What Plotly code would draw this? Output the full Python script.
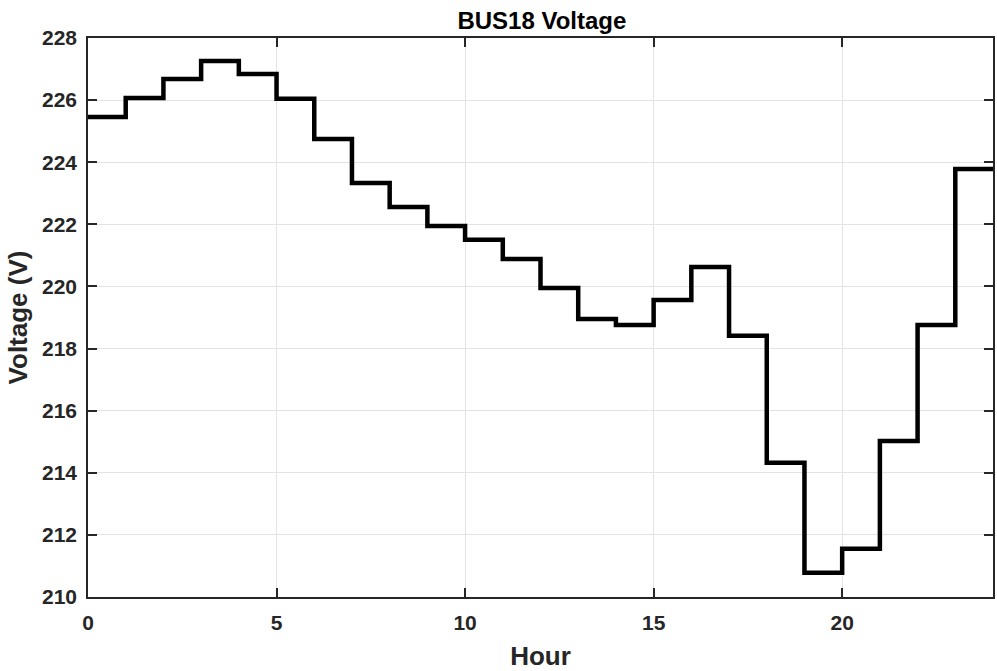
import plotly.graph_objects as go

# Hourly bus voltage (V), one value per hour 0..23
hours = list(range(24))
voltage = [225.46, 226.07, 226.68, 227.26, 226.84, 226.04, 224.75, 223.33,
           222.56, 221.95, 221.50, 220.88, 219.95, 218.95, 218.76, 219.56,
           220.63, 218.41, 214.32, 210.78, 211.55, 215.02, 218.76, 223.78]

x_ticks = [0, 5, 10, 15, 20]
y_ticks = [210, 212, 214, 216, 218, 220, 222, 224, 226, 228]

# extend the last step to hour 24
x_step = hours + [24]
y_step = voltage + [voltage[-1]]

font_family = "Liberation Sans, Arial, sans-serif"
axis_color = "#262626"

fig = go.Figure()
fig.add_trace(go.Scatter(
    x=x_step, y=y_step, mode="lines",
    line=dict(shape="hv", color="black", width=4.5),
    showlegend=False,
))

axis_common = dict(
    showline=True, linecolor=axis_color, linewidth=1.5,
    mirror="ticks", ticks="inside", ticklen=9, tickwidth=1.5, tickcolor=axis_color,
    showgrid=True, gridcolor="#e3e3e3", gridwidth=1,
    zeroline=False,
    tickfont=dict(family=font_family, size=21, color=axis_color),
)

fig.update_xaxes(
    range=[0, 24], tickvals=x_ticks,
    ticktext=[f"<b>{v}</b>" for v in x_ticks],
    ticklabelstandoff=6,
    title=dict(text="<b>Hour</b>", font=dict(family=font_family, size=26, color=axis_color), standoff=14),
    **axis_common,
)
fig.update_yaxes(
    range=[210, 228], tickvals=y_ticks,
    ticktext=[f"<b>{v}</b>" for v in y_ticks],
    ticklabelstandoff=5,
    title=dict(text="<b>Voltage (V)</b>", font=dict(family=font_family, size=26, color=axis_color), standoff=7),
    **axis_common,
)

fig.update_layout(
    width=997, height=671,
    margin=dict(l=88, r=2, t=38, b=74),
    paper_bgcolor="white", plot_bgcolor="white",
    title=dict(text="<b>BUS18 Voltage</b>", x=0.5435, xanchor="center", y=0.97, yanchor="middle",
               font=dict(family=font_family, size=24, color="black")),
)

fig.write_html("out.html")
